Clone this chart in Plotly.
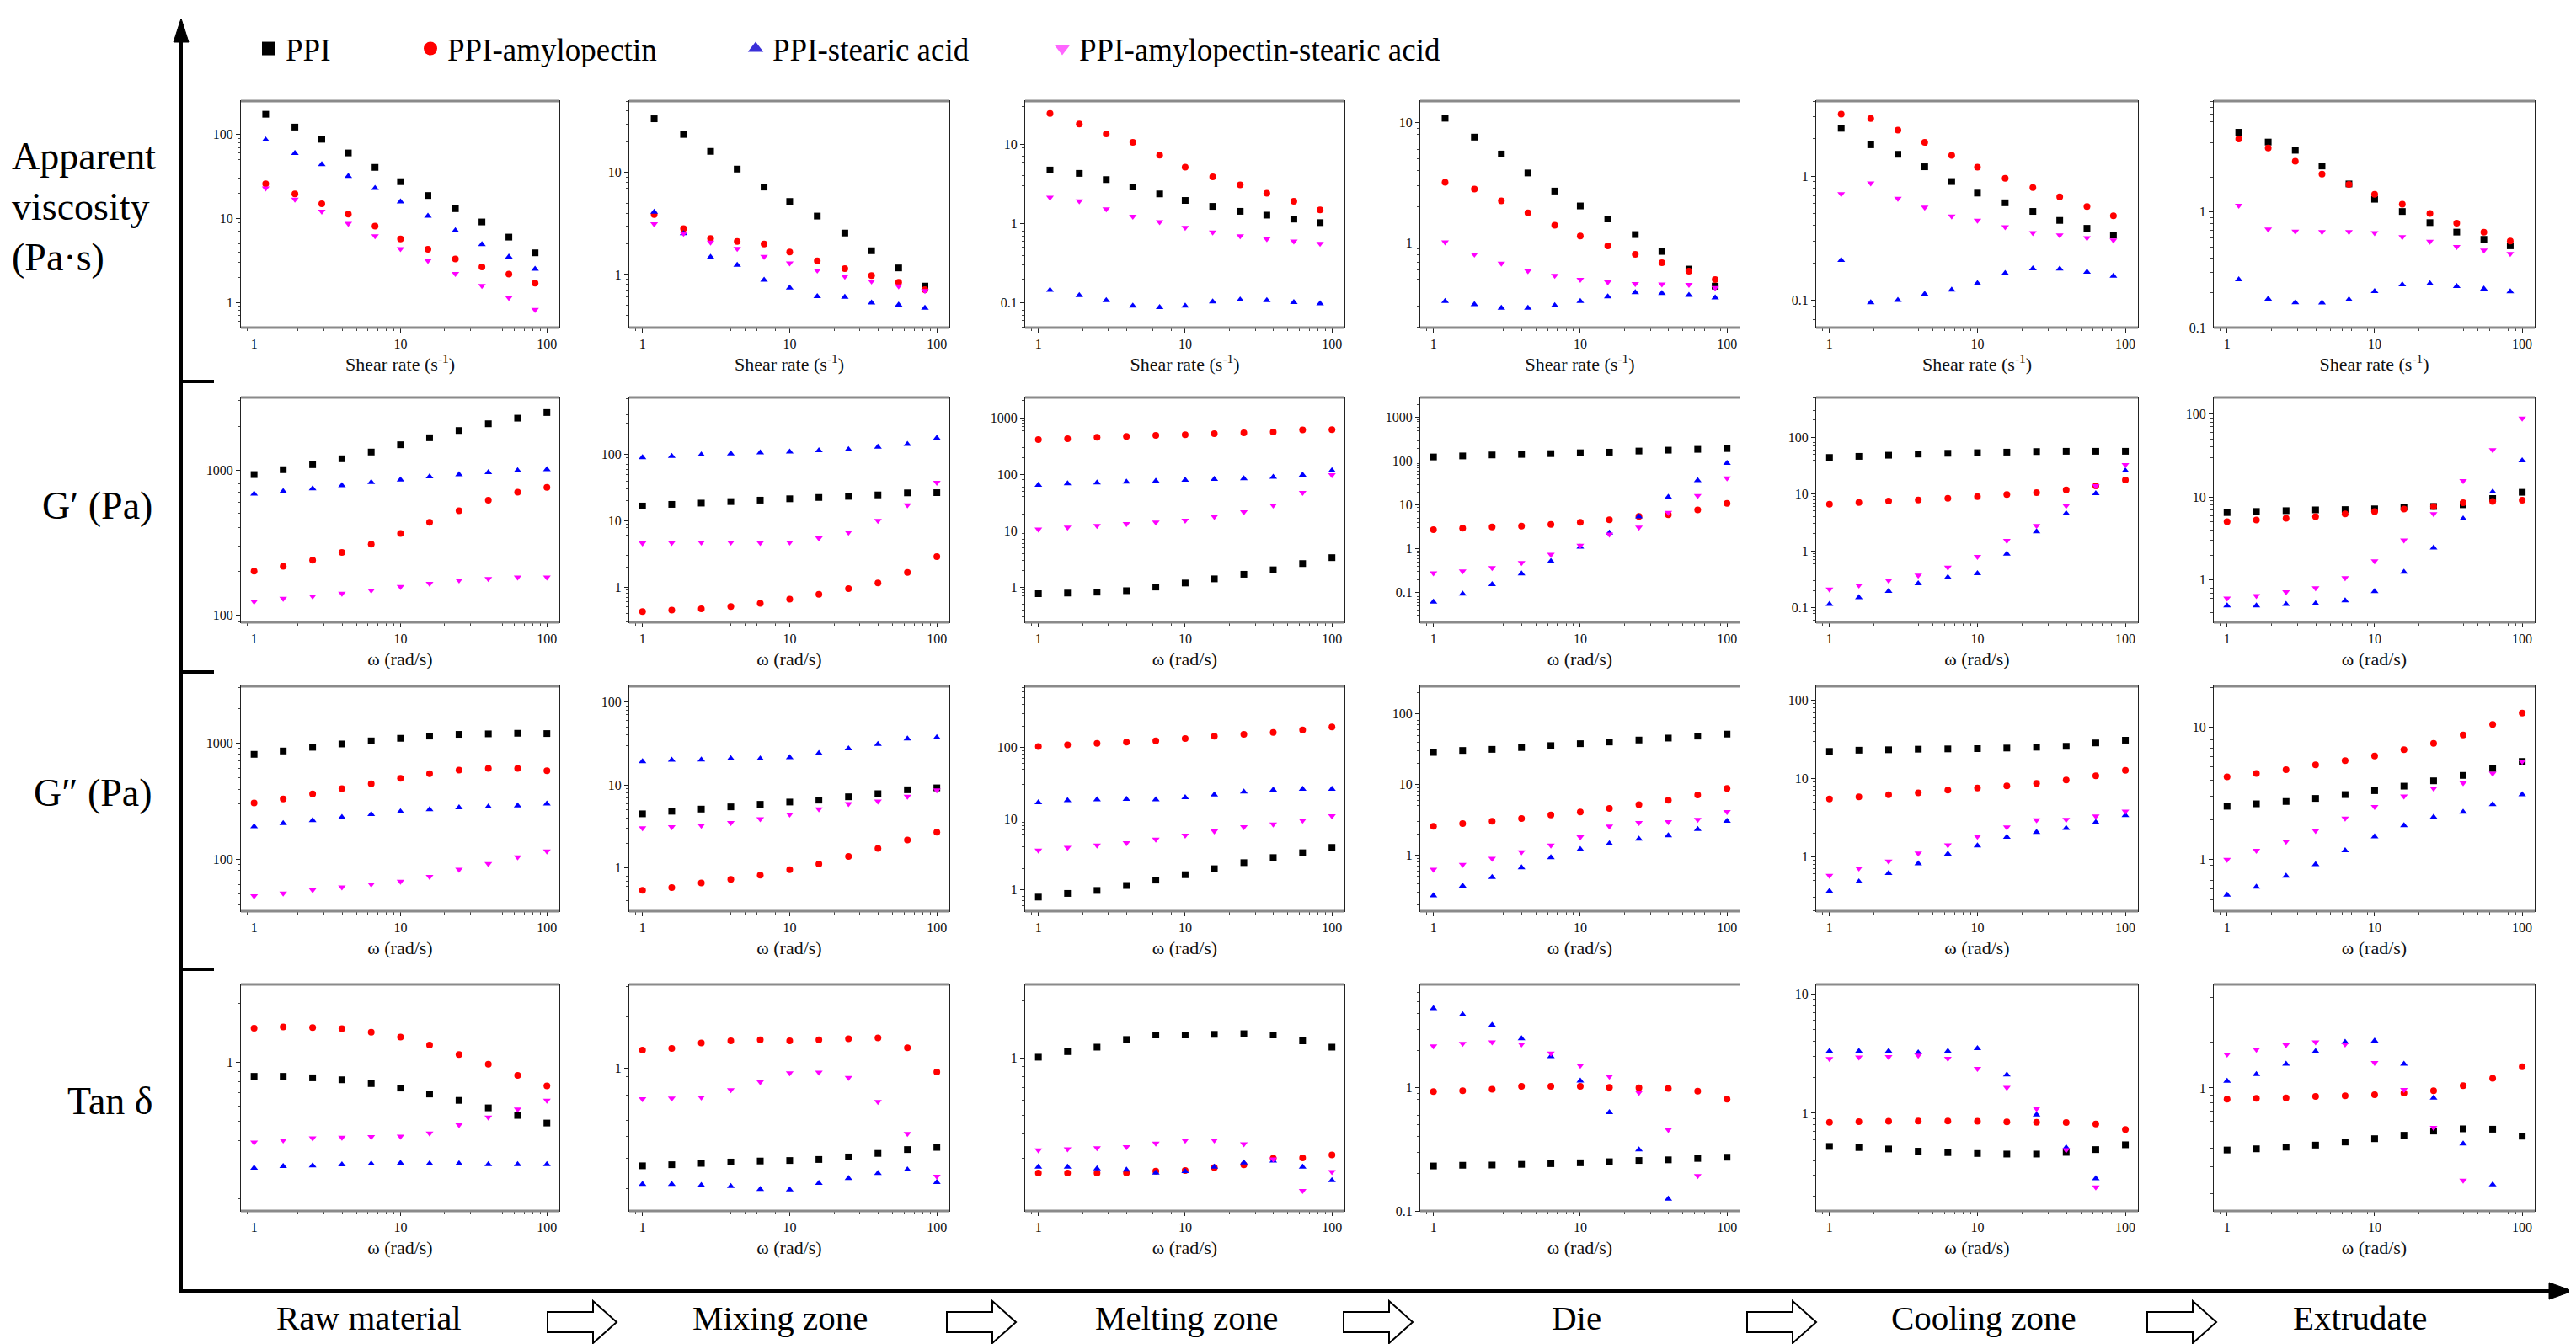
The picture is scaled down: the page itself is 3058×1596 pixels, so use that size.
import plotly.graph_objects as go

W, H = 3058, 1596

# ---------------- data ----------------
shear_rate = [1.2, 1.9, 2.9, 4.4, 6.7, 10, 15.4, 23.7, 36, 55, 83]
omega = [1, 1.58, 2.51, 3.98, 6.31, 10, 15.8, 25.1, 39.8, 63.1, 100]

series_names = ["PPI", "PPI-amylopectin", "PPI-stearic acid", "PPI-amylopectin-stearic acid"]
zones = ["Raw material", "Mixing zone", "Melting zone", "Die", "Cooling zone", "Extrudate"]
row_titles = ["Apparent<br>viscosity<br>(Pa·s)", "G′ (Pa)", "G″ (Pa)", "Tan δ"]
x_titles = ["Shear rate (s<sup>-1</sup>)", "ω (rad/s)", "ω (rad/s)", "ω (rad/s)"]

# Apparent viscosity (Pa·s), one list per zone
visc_ppi = [
    [175, 123, 88, 60.5, 40.7, 27.5, 18.8, 13.1, 9.1, 6.0, 3.9],
    [33.6, 23.6, 16.1, 10.8, 7.2, 5.2, 3.74, 2.55, 1.71, 1.16, 0.77],
    [4.74, 4.3, 3.59, 2.9, 2.37, 1.96, 1.65, 1.43, 1.28, 1.14, 1.03],
    [10.9, 7.6, 5.5, 3.83, 2.71, 2.04, 1.59, 1.18, 0.855, 0.61, 0.44],
    [2.43, 1.79, 1.5, 1.19, 0.905, 0.73, 0.61, 0.52, 0.44, 0.38, 0.335],
    [4.9, 4.03, 3.42, 2.5, 1.75, 1.29, 1.01, 0.81, 0.67, 0.58, 0.51],
]
visc_ap = [
    [26, 19.7, 15, 11.3, 8.1, 5.7, 4.3, 3.3, 2.65, 2.17, 1.7],
    [3.87, 2.81, 2.25, 2.11, 1.99, 1.66, 1.36, 1.14, 0.975, 0.84, 0.71],
    [24.4, 18, 13.5, 10.6, 7.3, 5.15, 3.9, 3.08, 2.42, 1.91, 1.49],
    [3.2, 2.82, 2.25, 1.79, 1.41, 1.15, 0.95, 0.81, 0.69, 0.586, 0.50],
    [3.16, 2.91, 2.35, 1.87, 1.47, 1.18, 0.96, 0.81, 0.68, 0.57, 0.48],
    [4.28, 3.58, 2.75, 2.13, 1.73, 1.42, 1.17, 0.97, 0.80, 0.67, 0.56],
]
visc_sa = [
    [87, 60, 44, 32, 23, 15.9, 10.7, 7.2, 4.9, 3.5, 2.5],
    [4.1, 2.52, 1.48, 1.24, 0.885, 0.74, 0.61, 0.60, 0.53, 0.505, 0.47],
    [0.145, 0.125, 0.108, 0.092, 0.088, 0.092, 0.104, 0.11, 0.108, 0.102, 0.098],
    [0.33, 0.31, 0.29, 0.29, 0.305, 0.33, 0.36, 0.39, 0.385, 0.37, 0.353],
    [0.21, 0.096, 0.10, 0.112, 0.121, 0.137, 0.165, 0.18, 0.179, 0.169, 0.157],
    [0.26, 0.177, 0.165, 0.164, 0.175, 0.206, 0.235, 0.24, 0.228, 0.216, 0.205],
]
visc_apsa = [
    [23, 16.9, 12.2, 8.7, 6.2, 4.35, 3.14, 2.2, 1.58, 1.14, 0.82],
    [3.13, 2.52, 2.07, 1.79, 1.5, 1.29, 1.10, 0.96, 0.86, 0.77, 0.695],
    [2.14, 1.93, 1.53, 1.23, 1.05, 0.89, 0.78, 0.70, 0.64, 0.60, 0.56],
    [1.02, 0.81, 0.68, 0.59, 0.54, 0.50, 0.475, 0.46, 0.457, 0.453, 0.427],
    [0.72, 0.877, 0.66, 0.56, 0.475, 0.44, 0.39, 0.35, 0.335, 0.318, 0.305],
    [1.14, 0.71, 0.68, 0.675, 0.675, 0.66, 0.61, 0.557, 0.50, 0.466, 0.435],
]

# Storage modulus G' (Pa)
gp_ppi = [
    [930, 1005, 1088, 1195, 1330, 1493, 1668, 1872, 2083, 2277, 2490],
    [16.7, 17.7, 18.5, 19.5, 20.5, 21.5, 22.5, 23.4, 24.6, 26.4, 26.6],
    [0.77, 0.79, 0.82, 0.87, 1.01, 1.19, 1.41, 1.70, 2.04, 2.63, 3.35],
    [126, 133, 140, 144, 150, 157, 162, 172, 180, 188, 196],
    [44, 46, 48.2, 50.5, 52.1, 53.4, 54.6, 55.9, 56.5, 56.5, 56.5],
    [6.5, 6.7, 6.85, 7.0, 7.06, 7.2, 7.57, 7.7, 8.07, 9.6, 11.4],
]
gp_ap = [
    [201, 217, 239, 270, 308, 365, 436, 523, 619, 702, 759],
    [0.43, 0.45, 0.47, 0.51, 0.57, 0.66, 0.78, 0.95, 1.16, 1.67, 2.89],
    [412, 427, 452, 468, 490, 501, 525, 543, 562, 610, 617],
    [2.75, 2.97, 3.15, 3.29, 3.6, 4.05, 4.63, 5.53, 6.04, 7.78, 10.9],
    [6.6, 7.08, 7.5, 7.84, 8.4, 9.0, 9.75, 10.6, 11.8, 13.9, 17.6],
    [5.05, 5.29, 5.54, 5.81, 6.28, 6.69, 7.17, 7.7, 8.52, 8.85, 9.13],
]
gp_sa = [
    [685, 713, 743, 783, 822, 856, 899, 931, 961, 991, 1009],
    [90, 94, 99, 103, 107, 110, 115, 119, 130, 143, 177],
    [64.6, 68.4, 70.8, 73.3, 75.9, 79.4, 82.2, 84.1, 89.1, 97.7, 117],
    [0.061, 0.093, 0.154, 0.27, 0.52, 1.1, 2.31, 5.45, 15.3, 36.8, 90.8],
    [0.115, 0.151, 0.194, 0.264, 0.343, 0.40, 0.88, 2.18, 4.53, 10.2, 25.7],
    [0.49, 0.49, 0.51, 0.52, 0.565, 0.73, 1.25, 2.45, 5.46, 11.6, 27.5],
]
gp_apsa = [
    [124, 130, 135, 141, 148, 157, 165, 174, 178, 182, 182],
    [4.6, 4.66, 4.75, 4.75, 4.66, 4.75, 5.5, 6.7, 10.1, 17.3, 37.8],
    [10.6, 11.5, 12.3, 13.3, 14.1, 15.3, 17.8, 21.6, 28.2, 47.3, 97.7],
    [0.28, 0.31, 0.37, 0.48, 0.74, 1.19, 2.14, 3.1, 6.7, 16.3, 41.4],
    [0.21, 0.247, 0.30, 0.37, 0.51, 0.79, 1.51, 2.77, 6.24, 13.9, 32.7],
    [0.60, 0.645, 0.715, 0.80, 1.06, 1.69, 3.01, 6.28, 15.7, 37.1, 88.9],
]

# Loss modulus G'' (Pa)
gpp_ppi = [
    [800, 855, 920, 983, 1045, 1100, 1150, 1190, 1202, 1216, 1209],
    [4.5, 4.83, 5.13, 5.46, 5.86, 6.24, 6.58, 7.22, 7.87, 8.77, 9.25],
    [0.79, 0.89, 0.98, 1.15, 1.37, 1.63, 1.98, 2.41, 2.84, 3.32, 3.95],
    [28.5, 30.4, 31.5, 33.4, 35.6, 37.9, 40, 42.7, 45.5, 48.5, 51.8],
    [22.2, 23, 23.3, 23.7, 23.9, 24.1, 24.5, 25.1, 25.8, 28.5, 30.9],
    [2.53, 2.64, 2.75, 2.9, 3.1, 3.32, 3.59, 3.94, 4.33, 4.88, 5.52],
]
gpp_ap = [
    [304, 330, 365, 405, 445, 497, 544, 585, 605, 605, 578],
    [0.54, 0.58, 0.66, 0.73, 0.82, 0.955, 1.12, 1.38, 1.72, 2.17, 2.70],
    [103, 109, 114, 119, 124, 134, 144, 153, 163, 177, 194],
    [2.57, 2.81, 3.03, 3.32, 3.71, 4.1, 4.61, 5.2, 6.02, 7.16, 8.84],
    [5.45, 5.82, 6.17, 6.53, 7.1, 7.52, 8.03, 8.66, 9.55, 10.8, 12.7],
    [4.22, 4.47, 4.78, 5.2, 5.6, 6.08, 6.77, 7.57, 8.77, 10.5, 12.8],
]
gpp_sa = [
    [191, 203, 215, 229, 243, 257, 267, 278, 283, 289, 299],
    [19.2, 20, 20.2, 20.9, 20.7, 21.5, 24.2, 27.4, 31, 36.2, 37.4],
    [16.9, 18, 18.5, 18.8, 18.6, 19.8, 21.7, 23.8, 25.4, 26.1, 26.1],
    [0.27, 0.37, 0.49, 0.67, 0.93, 1.22, 1.46, 1.7, 1.9, 2.34, 3.05],
    [0.36, 0.475, 0.61, 0.81, 1.08, 1.38, 1.77, 2.05, 2.31, 2.74, 3.37],
    [0.54, 0.62, 0.75, 0.92, 1.17, 1.49, 1.81, 2.1, 2.29, 2.61, 3.1],
]
gpp_apsa = [
    [48, 50.6, 54.1, 57.2, 60.5, 64, 70.4, 81.3, 90.9, 104, 117],
    [3.03, 3.12, 3.25, 3.51, 3.91, 4.43, 5.13, 5.94, 6.38, 7.28, 8.69],
    [3.6, 3.91, 4.24, 4.56, 5.13, 5.82, 6.66, 7.66, 8.38, 9.42, 10.9],
    [0.63, 0.74, 0.9, 1.11, 1.39, 1.81, 2.57, 2.89, 2.97, 3.2, 4.13],
    [0.57, 0.71, 0.87, 1.1, 1.4, 1.81, 2.38, 2.93, 2.98, 3.29, 3.79],
    [1.0, 1.17, 1.37, 1.65, 2.05, 2.51, 3.01, 3.45, 3.79, 4.47, 5.52],
]

# Tan delta
tan_ppi = [
    [0.85, 0.85, 0.835, 0.816, 0.78, 0.74, 0.69, 0.64, 0.586, 0.536, 0.49],
    [0.271, 0.275, 0.28, 0.285, 0.289, 0.291, 0.295, 0.305, 0.32, 0.337, 0.347],
    [1.01, 1.08, 1.14, 1.25, 1.32, 1.32, 1.33, 1.34, 1.32, 1.23, 1.14],
    [0.232, 0.235, 0.236, 0.239, 0.242, 0.246, 0.251, 0.257, 0.26, 0.267, 0.273],
    [0.526, 0.515, 0.501, 0.48, 0.467, 0.459, 0.454, 0.454, 0.469, 0.495, 0.543],
    [0.388, 0.395, 0.405, 0.418, 0.438, 0.461, 0.486, 0.518, 0.536, 0.533, 0.479],
]
tan_ap = [
    [1.50, 1.52, 1.51, 1.49, 1.43, 1.35, 1.23, 1.10, 0.98, 0.86, 0.76],
    [1.28, 1.31, 1.41, 1.45, 1.47, 1.45, 1.47, 1.49, 1.51, 1.32, 0.955],
    [0.25, 0.25, 0.25, 0.251, 0.256, 0.258, 0.267, 0.276, 0.299, 0.30, 0.311],
    [0.934, 0.949, 0.974, 1.03, 1.03, 1.03, 1.01, 1.0, 0.99, 0.94, 0.81],
    [0.84, 0.85, 0.854, 0.859, 0.859, 0.854, 0.845, 0.84, 0.836, 0.813, 0.73],
    [0.842, 0.853, 0.86, 0.879, 0.887, 0.902, 0.925, 0.958, 1.035, 1.16, 1.38],
]
tan_sa = [
    [0.288, 0.294, 0.296, 0.3, 0.303, 0.305, 0.304, 0.304, 0.301, 0.301, 0.301],
    [0.212, 0.212, 0.209, 0.206, 0.198, 0.197, 0.215, 0.229, 0.245, 0.257, 0.217],
    [0.269, 0.269, 0.264, 0.26, 0.251, 0.255, 0.269, 0.283, 0.29, 0.269, 0.229],
    [4.42, 3.94, 3.24, 2.51, 1.8, 1.14, 0.632, 0.314, 0.125, None, None],
    [3.31, 3.31, 3.31, 3.22, 3.31, 3.5, 2.1, 0.97, 0.515, 0.283, None],
    [1.11, 1.23, 1.44, 1.75, 2.01, 2.05, 1.44, 0.86, 0.426, 0.229, None],
]
tan_apsa = [
    [0.39, 0.40, 0.41, 0.413, 0.416, 0.418, 0.434, 0.48, 0.525, 0.576, 0.64],
    [0.665, 0.67, 0.68, 0.75, 0.836, 0.94, 0.95, 0.885, 0.64, 0.417, 0.235],
    [0.33, 0.334, 0.338, 0.343, 0.358, 0.371, 0.372, 0.355, 0.296, 0.202, 0.254],
    [2.18, 2.29, 2.35, 2.26, 1.91, 1.52, 1.24, 0.915, 0.458, 0.193, None],
    [2.86, 2.94, 2.97, 3.05, 2.87, 2.36, 1.64, 1.09, 0.493, 0.24, None],
    [1.67, 1.8, 1.93, 2.01, 1.95, 1.47, 0.975, 0.547, 0.244, None, None],
]

rows_data = [
    [visc_ppi, visc_ap, visc_sa, visc_apsa],
    [gp_ppi, gp_ap, gp_sa, gp_apsa],
    [gpp_ppi, gpp_ap, gpp_sa, gpp_apsa],
    [tan_ppi, tan_ap, tan_sa, tan_apsa],
]

# ---------------- styling / layout ----------------
FONT = "Liberation Serif"
colors = ["#000000", "#ff0000", "#0000ff", "#ff00ff"]
legend_colors = ["#000000", "#ff0000", "#3a2fd9", "#ff66ff"]
symbols = ["square", "circle", "triangle-up", "triangle-down"]

# log10 y-ranges of each panel (row, col)
y_ranges = [
    [[-0.30, 2.40], [-0.52, 1.70], [-1.31, 1.545], [-0.70, 1.18], [-1.22, 0.605], [-1.0, 0.96]],
    [[1.95, 3.50], [-0.53, 2.86], [-0.62, 3.36], [-1.68, 3.46], [-1.26, 2.70], [-0.51, 2.20]],
    [[1.55, 3.49], [-0.52, 2.19], [-0.30, 2.86], [-0.79, 2.39], [-0.70, 2.18], [-0.39, 1.31]],
    [[-0.76, 0.40], [-0.83, 0.49], [-0.80, 0.385], [-1.0, 0.84], [-0.82, 1.08], [-0.815, 0.686]],
]
x_range = [-0.09, 2.085]

col_px = [(278, 656), (739, 1119), (1209, 1588), (1678, 2057), (2148, 2530), (2620, 3001)]
row_px = [(112, 381), (464, 731), (807, 1074), (1161, 1430)]

def px(x):
    return x / W

def py(y):
    return 1 - y / H

minor_vals = [k * 10 ** d for d in range(-3, 5) for k in range(2, 10)]

fig = go.Figure()
layout = {}
shapes = []

for r in range(4):
    for c in range(6):
        idx = r * 6 + c + 1
        sfx = "" if idx == 1 else str(idx)
        xs = shear_rate if r == 0 else omega
        for s in range(4):
            fig.add_trace(go.Scatter(
                x=xs, y=rows_data[r][s][c], mode="markers",
                marker=dict(symbol=symbols[s], color=colors[s], size=8, line=dict(width=0)),
                xaxis="x" + sfx, yaxis="y" + sfx, showlegend=False,
                name=series_names[s],
            ))
        x0, x1 = col_px[c]
        y0, y1 = row_px[r]
        common = dict(
            type="log", showgrid=False, zeroline=False, showline=True,
            linecolor="#222", linewidth=1, mirror=True,
            ticks="outside", ticklen=5, tickwidth=1, tickcolor="#222",
            dtick=1, exponentformat="none",
            tickfont=dict(family=FONT, size=16, color="#111"),
            minor=dict(ticks="outside", ticklen=3, tickwidth=1, tickcolor="#444",
                       tickmode="array", tickvals=minor_vals, showgrid=False),
            automargin=False,
        )
        layout["xaxis" + sfx] = dict(
            common, domain=[px(x0), px(x1)], range=x_range, anchor="y" + sfx,
            title=dict(text=x_titles[r], standoff=8,
                       font=dict(family=FONT, size=22, color="#111")),
        )
        layout["yaxis" + sfx] = dict(
            common, domain=[py(y1), py(y0)], range=y_ranges[r][c], anchor="x" + sfx,
        )
        # grey heavy frame edges (top & bottom) as in the original
        for yy in (y0, y1):
            shapes.append(dict(type="line", xref="paper", yref="paper",
                               x0=px(x0), x1=px(x1), y0=py(yy), y1=py(yy),
                               line=dict(color="#8a8a8a", width=3)))

# legend-only traces (one legend per series, placed like the original)
leg_centers = [313, 505, 891, 1255]
for i, name in enumerate(series_names):
    key = "legend" if i == 0 else f"legend{i + 1}"
    fig.add_trace(go.Scatter(
        x=[None], y=[None], mode="markers", name=name,
        marker=dict(symbol=symbols[i], color=legend_colors[i], size=30),
        xaxis="x", yaxis="y", showlegend=True, legend=key,
    ))
    layout[key] = dict(
        x=px(leg_centers[i] - 22), y=py(50), xanchor="left", yanchor="middle",
        orientation="h", itemsizing="trace", bgcolor="rgba(0,0,0,0)",
        font=dict(family=FONT, size=37, color="#000"),
    )

# main process axes (vertical & horizontal arrows)
AX_X, AX_Y = 207, 1525
shapes.append(dict(type="line", xref="paper", yref="paper",
                   x0=px(AX_X), x1=px(AX_X), y0=py(AX_Y + 2), y1=py(36),
                   line=dict(color="#000", width=4)))
shapes.append(dict(type="path", xref="paper", yref="paper",
                   path=f"M {px(AX_X - 9)},{py(42)} L {px(AX_X)},{py(14)} L {px(AX_X + 9)},{py(42)} Z",
                   fillcolor="#000", line=dict(color="#000", width=1)))
shapes.append(dict(type="line", xref="paper", yref="paper",
                   x0=px(AX_X - 2), x1=px(3025), y0=py(AX_Y), y1=py(AX_Y),
                   line=dict(color="#000", width=4)))
shapes.append(dict(type="path", xref="paper", yref="paper",
                   path=f"M {px(3018)},{py(AX_Y - 10)} L {px(3046)},{py(AX_Y)} L {px(3018)},{py(AX_Y + 10)} Z",
                   fillcolor="#000", line=dict(color="#000", width=1)))
for ty in (445, 790, 1143):
    shapes.append(dict(type="line", xref="paper", yref="paper",
                       x0=px(AX_X), x1=px(246), y0=py(ty), y1=py(ty),
                       line=dict(color="#000", width=4)))

# open block arrows between zone labels
arrow_x = [642, 1116, 1587, 2066, 2541]
for ax0 in arrow_x:
    w = 82
    xb = ax0 + 54
    xt = ax0 + w
    yc = 1562
    path = (f"M {px(ax0)},{py(yc - 12)} L {px(xb)},{py(yc - 12)} L {px(xb)},{py(yc - 25)} "
            f"L {px(xt)},{py(yc)} L {px(xb)},{py(yc + 25)} L {px(xb)},{py(yc + 12)} "
            f"L {px(ax0)},{py(yc + 12)} Z")
    shapes.append(dict(type="path", xref="paper", yref="paper", path=path,
                       fillcolor="#fff", line=dict(color="#000", width=2)))

annotations = []
zone_centers = [430, 918, 1400, 1863, 2347, 2793]
for name, cx in zip(zones, zone_centers):
    annotations.append(dict(text=name, x=px(cx), y=py(1557), xref="paper", yref="paper",
                            showarrow=False, xanchor="center", yanchor="middle",
                            font=dict(family=FONT, size=41, color="#000")))

annotations.append(dict(text=row_titles[0], x=px(4), y=py(237), xref="paper", yref="paper",
                        showarrow=False, xanchor="left", yanchor="middle", align="left",
                        font=dict(family=FONT, size=46, color="#000")))
for title, cy in zip(row_titles[1:], [592, 933, 1299]):
    annotations.append(dict(text=title, x=px(175), y=py(cy), xref="paper", yref="paper",
                            showarrow=False, xanchor="right", yanchor="middle",
                            font=dict(family=FONT, size=46, color="#000")))

fig.update_layout(
    width=W, height=H,
    margin=dict(l=0, r=0, t=0, b=0),
    paper_bgcolor="#ffffff", plot_bgcolor="#ffffff",
    font=dict(family=FONT, color="#000"),
    shapes=shapes, annotations=annotations,
    **layout,
)

fig.write_html("out.html")
